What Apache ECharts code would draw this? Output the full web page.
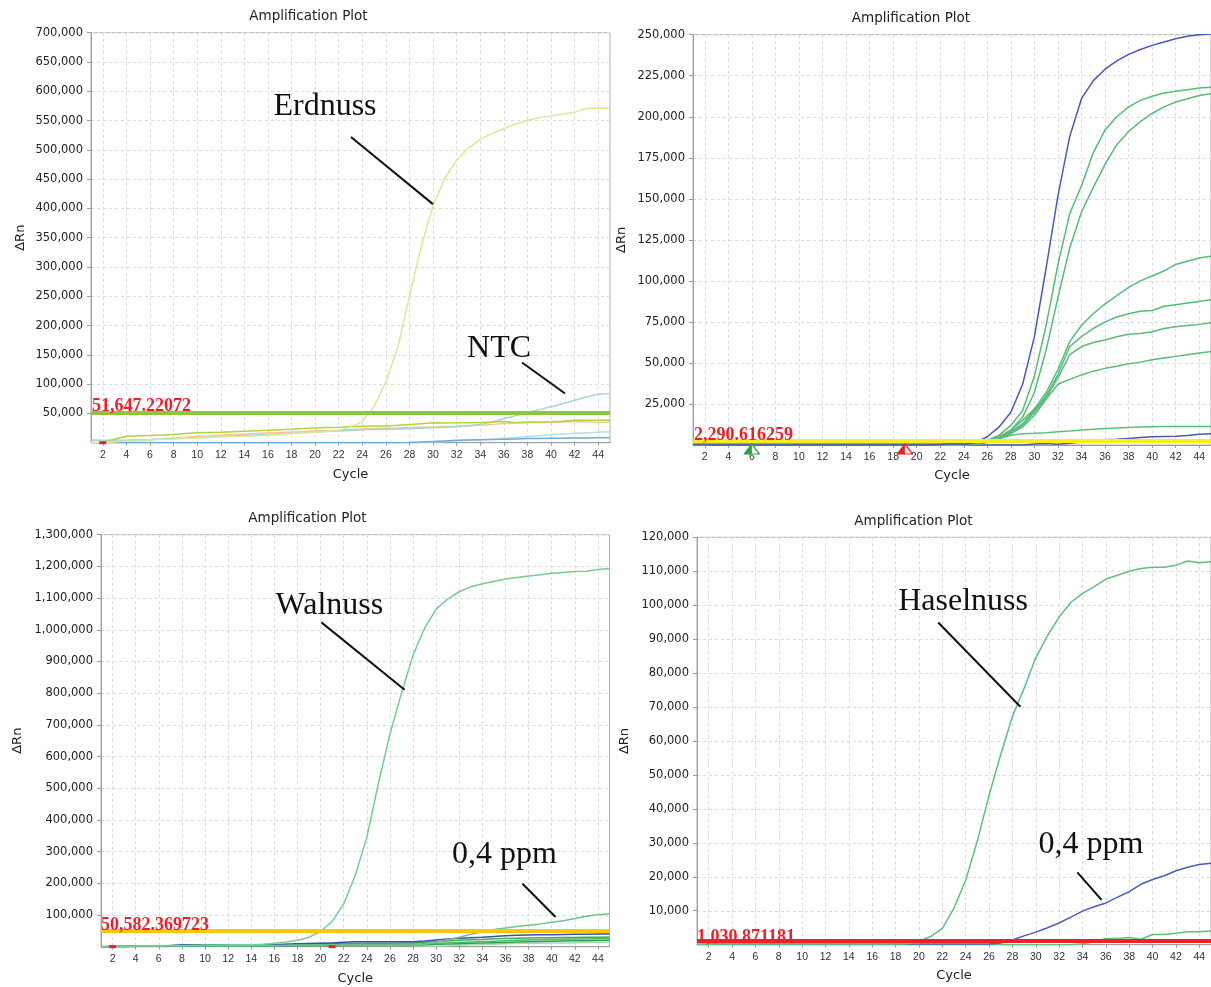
<!DOCTYPE html>
<html><head><meta charset="utf-8">
<script src="https://cdn.jsdelivr.net/npm/echarts@6/dist/echarts.min.js"></script>
<style>html,body{margin:0;padding:0;background:#fff}#c{width:1211px;height:987px}</style>
</head><body><div id="c"></div>
<script>
// ---------- shared axis data ----------
const cycles = [1,2,3,4,5,6,7,8,9,10,11,12,13,14,15,16,17,18,19,20,21,22,23,24,25,26,27,28,29,30,31,32,33,34,35,36,37,38,39,40,41,42,43,44,45];
const xTickValues = [2,4,6,8,10,12,14,16,18,20,22,24,26,28,30,32,34,36,38,40,42,44];

// ---------- panel A : Erdnuss ----------
const erdnussA = [0,500,2000,3000,4000,5000,6000,6500,7500,8200, 9000,10000,10500,11100,12000,13000,14500,15700,16800,17900, 19500,21300,27000,36000,62000,104000,162000,250000,335000,405000, 452000,482000,503000,518000,528000,536000,544000,550000,555000,558000, 561000,564000,571000,571000,571000];
const yellowGreenA = [0,200,6000,11100,11800,12200,13000,13900,15500,16800, 17500,17900,18800,19600,20500,21300,22200,23100,24200,25300, 26000,26500,27500,28200,28500,28700,29800,31000,32500,33900, 33800,33900,34100,34400,35200,36100,33900,35500,35500,35600, 36800,38400,38400,38400,38400];
const orangeA = [0,500,1500,3500,4500,5100,6500,8000,9500,11100, 12000,13300,14200,15000,15900,16800,17600,18400,19300,20200, 20800,21300,22500,23600,24200,24800,25300,25800,26400,27000, 27500,28000,29000,29900,31200,32700,33500,34000,34400,34400, 35200,36100,35500,34400,34800];
const ntcA = [4500,4000,4000,4000,5000,5500,6500,7000,7800,8500, 9500,10500,11500,12500,13300,14200,15200,16200,17200,18200, 19000,19900,21000,22200,22600,23000,23400,23900,24700,25600, 26500,27300,29000,31300,35000,41300,46000,51500,56500,61200, 66500,72600,78000,82900,84000];
const paleCyanA = [4000,3000,2000,1500,1000,700,400,200,0,0, 0,0,0,0,0,0,0,0,0,0, 0,0,0,0,0,0,0,200,600,1200, 2000,3000,4000,5000,6000,7500,9000,10500,12000,13500, 15000,16000,17000,18000,18500];
const blueA = [0,0,0,0,0,0,0,0,0,0, 0,0,0,0,0,0,0,0,0,0, 0,0,0,0,0,0,0,300,1000,2000, 3000,4000,4500,5000,5500,6000,6500,7000,7200,7500, 7800,8000,8200,8500,8500];
const thresholdA = 51647.22072;

// ---------- panel B ----------
const blueBigB = [0,0,0,0,0,0,0,0,0,0, 0,0,0,0,0,0,0,0,0,0, 0,300,800,500,1500,5000,11000,20000,37000,66000, 108000,152000,188000,211000,222000,229000,234000,238000,241000,243500, 245500,247500,249000,250000,250500];
const greenB1 = [500,500,500,500,500,500,500,500,500,500, 500,500,500,500,500,500,500,500,500,500, 500,500,500,500,1000,3000,6000,12000,21000,42000, 73000,110000,141000,158000,178000,192000,200000,206000,210000,212500, 214500,215500,216500,217500,218000];
const greenB2 = [500,500,500,500,500,500,500,500,500,500, 500,500,500,500,500,500,500,500,500,500, 500,500,500,500,1000,2500,5000,9000,17000,32000, 58000,90000,120000,142000,157000,171000,183000,191000,197000,202000, 206000,209000,211000,213000,214000];
const greenB3 = [500,500,500,500,500,500,500,500,500,500, 500,500,500,500,500,500,500,500,500,500, 500,500,500,500,1000,2500,5000,9000,15000,22000, 32000,46000,63000,73000,80000,86000,91000,96000,100000,103000, 106000,110000,112000,114000,115000];
const greenB4 = [500,500,500,500,500,500,500,500,500,500, 500,500,500,500,500,500,500,500,500,500, 500,500,500,500,800,2000,4000,8000,13000,21000, 30000,43000,60000,66000,71000,75000,78000,80000,81500,82000, 84500,85500,86500,87500,88500];
const greenB5 = [500,500,500,500,500,500,500,500,500,500, 500,500,500,500,500,500,500,500,500,500, 500,500,500,500,800,2000,4000,7500,12000,20000, 29000,41000,55000,60000,62500,64000,66000,67500,68000,69000, 71000,72000,72800,73500,74500];
const greenB6 = [500,500,500,500,500,500,500,500,500,500, 500,500,500,500,500,500,500,500,500,500, 500,500,500,500,500,1500,3500,7000,11000,18000, 28000,37000,40000,42700,45000,46700,48000,49500,50500,52000, 53000,54000,55000,56000,57000];
const greenB7 = [500,500,500,500,500,500,500,500,500,500, 500,500,500,500,500,500,500,500,500,500, 500,500,500,500,500,2000,4000,6000,6800,7100, 7500,8000,8500,9100,9600,10100,10400,10700,10900,11100, 11200,11200,11200,11200,11200];
const blueSmallB = [1500,800,0,0,0,0,0,0,0,0, 0,0,0,0,0,0,0,0,0,0, 0,300,800,300,0,0,0,0,0,600, 900,500,1000,1800,2500,3200,3500,4000,4500,5000, 5200,5300,5800,6600,6800];
const thresholdB = 2290.616259;
const baselineMarksB = [6, 19];

// ---------- panel C : Walnuss ----------
const walnussC = [0,1000,1500,2000,2500,3000,3500,4000,4500,5000, 5000,5000,5000,5500,8000,11000,15000,20000,30000,48000, 80000,135000,225000,345000,515000,670000,800000,920000,1005000,1065000, 1097000,1120000,1136000,1145000,1152000,1160000,1165000,1170000,1174000,1178000, 1181000,1184000,1185000,1190000,1193000];
const ppmC = [0,500,1000,1500,2000,2500,3000,3000,3000,3000, 3000,3000,3000,3000,3500,4000,4500,5000,5000,5000, 5000,5000,5000,5000,5000,5000,5000,5500,8000,14000, 22000,30000,39000,47000,54000,59000,64000,68000,72000,77000, 82000,89000,96000,101000,104000];
const blueC = [0,500,1000,1500,2000,2500,4000,6000,6500,6500, 6000,5000,4500,4000,4500,6000,8000,9000,10000,11000, 12000,14000,15500,16000,16000,16000,15500,16000,18000,21000, 24000,27000,28500,30000,32500,34500,36000,37000,37500,38000, 38500,39000,39500,40000,40000];
const greenC1 = [0,500,1000,1500,2000,2000,2500,2500,3000,3000, 3000,3000,3000,3000,3500,5000,7000,8000,9000,10000, 10500,10500,11000,11000,11000,11000,11500,12000,14000,16000, 18000,20000,22000,23000,25000,26000,27000,27500,28000,28500, 29000,29000,29500,30000,30500];
const greenC2 = [0,500,1000,1500,1500,2000,2000,2500,2500,2500, 2500,2500,3000,3000,3000,3500,4000,4500,5000,5500, 6000,6500,7000,7000,7000,7500,7500,8000,9000,10000, 11500,13000,14500,16000,17500,19000,20000,21000,22000,23000, 23500,24000,24500,25000,25500];
const greenC3 = [0,0,500,1000,1000,1500,1500,2000,2000,2000, 2000,2000,2000,2500,2500,3000,3000,3500,3500,4000, 4000,4500,4500,5000,5000,5000,5500,6000,6500,7500, 8500,9500,10500,11500,12500,13500,14500,15500,16500,17500, 18000,18500,19000,19500,20000];
const greenC4 = [0,0,0,500,500,1000,1000,1500,1500,2000, 2000,2500,2500,3000,4000,6000,7000,7500,8000,8000, 8000,8000,8000,8000,8000,7500,6000,4000,2500,2000, 3000,4500,6000,7000,8000,9000,10000,10500,11000,11500, 12000,12500,13000,13500,14000];
const thresholdC = 50582.369723;

// ---------- panel D : Haselnuss ----------
const haselnussD = [200,200,200,200,200,200,200,200,200,200, 200,200,200,200,200,200,200,200,300,1000, 2400,4800,10800,19000,30600,44000,56000,67200,75500,84500, 91000,96500,100800,103500,105500,107700,108800,110000,110800,111200, 111200,111800,113000,112500,112800];
const ppmD = [1500,500,200,200,200,200,200,200,200,200, 200,200,200,200,200,200,200,200,200,200, 200,200,200,200,200,200,500,1400,2600,3700, 5000,6400,8100,9900,11200,12300,14000,15600,17800,19200, 20300,21800,22800,23600,24000];
const greenSmallD = [0,0,0,0,0,0,0,0,0,0, 0,0,0,0,0,0,0,0,0,0, 0,0,0,0,0,0,0,0,0,0, 0,0,0,300,900,1800,1800,2100,1600,3000, 3000,3400,3800,3800,4000];
const thresholdD = 1030.871181;

// ---------- texts ----------
const plotTitle = 'Amplification Plot';
const xName = 'Cycle';
const yName = 'ΔRn';

// ---------- build ----------
const UI = '"DejaVu Sans", Verdana, sans-serif';
const SERIF = '"Liberation Serif", "Times New Roman", serif';
const pair = arr => cycles.map((c, i) => [c, arr[i]]);
const fmtThr = v => v.toLocaleString('en-US', {maximumFractionDigits: 6});

const panels = [
  { box:{left:91, top:32.7, width:519, height:410}, yMax:700000, yStep:50000, yGap:64, xGap:25, title:[308.5,16.5],
    lines:[
      {d:paleCyanA, c:'#b6e1dd'}, {d:blueA, c:'#68aee0'}, {d:orangeA, c:'#f6c796'},
      {d:ntcA, c:'#a3d6d2'}, {d:yellowGreenA, c:'#b3d33a'}, {d:erdnussA, c:'#dfe49c'}],
    thr:{v:thresholdA, c:'#8cc63f', dist:[1,-3]},
    notes:[{t:'Erdnuss', at:[20.84,573300], from:[23.04,522000], to:[29.99,407300]},
           {t:'NTC', at:[35.6,160500], from:[37.54,136900], to:[41.19,83900]}],
    ticks:[{x:2, c:'#e8202a'}] },
  { box:{left:693, top:34.7, width:519, height:410.3}, yMax:250000, yStep:25000, yGap:65, xGap:24.5, title:[911,18.5],
    lines:[
      {d:blueSmallB, c:'#4a58bd'}, {d:greenB7, c:'#5bc07a'}, {d:greenB6, c:'#56bd76'}, {d:greenB5, c:'#56bd76'},
      {d:greenB4, c:'#56bd76'}, {d:greenB3, c:'#56bd76'}, {d:greenB2, c:'#56bd76'}, {d:greenB1, c:'#56bd76'},
      {d:blueBigB, c:'#4a58bd'}],
    thr:{v:thresholdB, c:'#f6ee1e', dist:[1,-3]},
    notes:[], tris:[{x:baselineMarksB[0], c:'#2e9e45'}, {x:baselineMarksB[1], c:'#e52222'}] },
  { box:{left:101, top:534.7, width:508.5, height:412}, yMax:1300000, yStep:100000, yGap:77, xGap:25.5, title:[307.5,518.5],
    lines:[
      {d:greenC4, c:'#a3dcb3'}, {d:greenC3, c:'#2f9f4f'}, {d:greenC2, c:'#4bb968'}, {d:greenC1, c:'#3aae59'},
      {d:blueC, c:'#3a4db5'}, {d:ppmC, c:'#6cc589'}, {d:walnussC, c:'#74cd91'}],
    thr:{v:thresholdC, c:'#fdc50c', dist:[0,-4]},
    notes:[{t:'Walnuss', at:[20.76,1075900], from:[20.07,1023300], to:[27.27,810900]},
           {t:'0,4 ppm', at:[35.9,290300], from:[37.47,198800], to:[40.33,93700]}],
    ticks:[{x:2, c:'#e8202a'}, {x:21, c:'#e8202a'}] },
  { box:{left:697, top:537.3, width:518.5, height:407.4}, yMax:120000, yStep:10000, yGap:66, xGap:24, title:[913.5,521.5],
    lines:[
      {d:greenSmallD, c:'#5cc27e'}, {d:ppmD, c:'#4a5cc0'}, {d:haselnussD, c:'#5cc27e'}],
    thr:{v:thresholdD, c:'#ee2226', dist:[0,-5]},
    notes:[{t:'Haselnuss', at:[23.78,101200], from:[21.65,94900], to:[28.68,70100]},
           {t:'0,4 ppm', at:[34.73,29400], from:[33.56,21300], to:[35.63,13200]}] }
];

const grid = [], xAxis = [], yAxis = [], series = [], graphic = [];
panels.forEach((p, gi) => {
  grid.push(Object.assign({show:true, borderColor:'#b0b0b0', borderWidth:1, backgroundColor:'#fff'}, p.box));
  xAxis.push({
    gridIndex:gi, type:'value', min:1, max:45,
    name:xName, nameLocation:'middle', nameGap:p.xGap,
    nameTextStyle:{fontFamily:UI, fontSize:13, color:'#222'},
    axisLine:{show:true, lineStyle:{color:'#9c9c9c'}},
    axisTick:{show:true, customValues:xTickValues, length:3, lineStyle:{color:'#9c9c9c'}},
    axisLabel:{customValues:xTickValues, margin:7, fontFamily:'"Liberation Sans", Arial, sans-serif', fontSize:10.5, color:'#333'},
    splitLine:{show:true, lineStyle:{color:'#dadada', type:[3,3], width:1}}
  });
  yAxis.push({
    gridIndex:gi, type:'value', min:0, max:p.yMax, interval:p.yStep,
    name:yName, nameLocation:'middle', nameGap:p.yGap,
    nameTextStyle:{fontFamily:UI, fontSize:13, color:'#222'},
    axisLine:{show:true, lineStyle:{color:'#9c9c9c'}},
    axisTick:{show:true, length:4, lineStyle:{color:'#9c9c9c'}},
    axisLabel:{showMinLabel:false, margin:8, fontFamily:UI, fontSize:11.5, color:'#222',
      formatter:v => v.toLocaleString('en-US')},
    splitLine:{show:true, lineStyle:{color:'#dadada', type:[3,3], width:1}}
  });
  p.lines.forEach(l => series.push({
    type:'line', xAxisIndex:gi, yAxisIndex:gi, data:pair(l.d), showSymbol:false, symbol:'none',
    lineStyle:{color:l.c, width:1.5}, itemStyle:{color:l.c}, z:2, silent:true, animation:false
  }));
  // threshold
  series.push({
    type:'line', xAxisIndex:gi, yAxisIndex:gi, data:[], z:4, silent:true, animation:false,
    markLine:{silent:true, symbol:['none','none'], animation:false,
      lineStyle:{color:p.thr.c, width:4, type:'solid'},
      label:{show:true, position:'insideStartTop', distance:p.thr.dist, formatter:fmtThr(p.thr.v),
        color:'#f01e28', fontFamily:SERIF, fontWeight:'bold', fontSize:18},
      emphasis:{disabled:true},
      data:[{yAxis:p.thr.v}]}
  });
  // annotations
  const mlData = p.notes.map(n => [{coord:n.from}, {coord:n.to}]);
  const mpData = p.notes.map(n => ({name:n.t, coord:n.at}));
  (p.ticks || []).forEach(t => mpData.push({name:'', coord:[t.x, 0], symbol:'rect', symbolSize:[7,3], itemStyle:{color:t.c}, label:{show:false}}));
  (p.tris || []).forEach(t => {
    mpData.push({name:'', coord:[t.x, 0], symbol:'triangle', symbolSize:[15,10], symbolOffset:[0,4],
      itemStyle:{color:'#ffffff', borderColor:t.c, borderWidth:1.2}, label:{show:false}});
    mpData.push({name:'', coord:[t.x, 0], symbol:'path://M10 0 L10 20 L0 20 Z', symbolSize:[7.5,10], symbolOffset:[-3.75,4],
      itemStyle:{color:t.c}, label:{show:false}});
  });
  series.push({
    type:'line', xAxisIndex:gi, yAxisIndex:gi, data:[], z:6, silent:true, animation:false,
    markLine:{silent:true, symbol:['none','none'], animation:false,
      lineStyle:{color:'#111', width:2, type:'solid'}, label:{show:false}, emphasis:{disabled:true}, data:mlData},
    markPoint:{silent:true, animation:false, symbol:'circle', symbolSize:1,
      itemStyle:{color:'rgba(0,0,0,0)'},
      label:{show:true, position:'inside', formatter:q => q.name, fontFamily:SERIF, fontSize:32, color:'#111'},
      emphasis:{disabled:true}, data:mpData}
  });
  graphic.push({type:'text', x:p.title[0], y:p.title[1], silent:true,
    style:{text:plotTitle, fontFamily:UI, fontSize:13.5, fill:'#222', align:'center', verticalAlign:'middle'}});
});

const chart = echarts.init(document.getElementById('c'), null, {renderer:'canvas'});
chart.setOption({backgroundColor:'#fff', animation:false, grid, xAxis, yAxis, series, graphic});
</script>
</body></html>
